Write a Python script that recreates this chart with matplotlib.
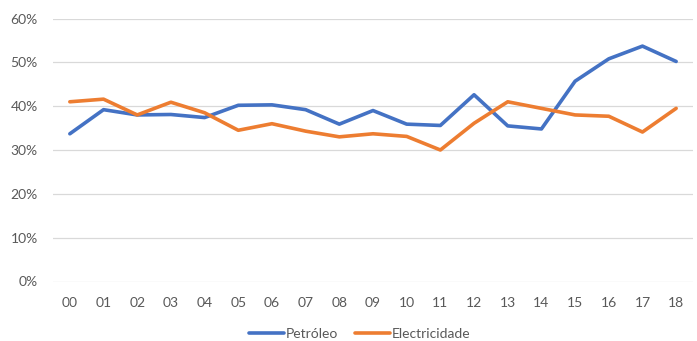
import matplotlib
matplotlib.use("Agg")
import matplotlib.pyplot as plt
from matplotlib.ticker import FuncFormatter

years = ["00", "01", "02", "03", "04", "05", "06", "07", "08", "09",
         "10", "11", "12", "13", "14", "15", "16", "17", "18"]
petroleo = [33.7, 39.2, 38.0, 38.1, 37.4, 40.2, 40.3, 39.2, 35.9, 39.0,
            35.9, 35.6, 42.6, 35.5, 34.8, 45.7, 50.8, 53.7, 50.2]
electricidade = [41.0, 41.6, 38.0, 40.9, 38.5, 34.5, 36.0, 34.3, 33.0, 33.7,
                 33.1, 30.0, 36.1, 41.0, 39.5, 38.0, 37.7, 34.1, 39.5]
series_names = ["Petróleo", "Electricidade"]
y_ticks = [0, 10, 20, 30, 40, 50, 60]

plt.rcParams["font.family"] = ["Lato", "DejaVu Sans"]
text_color = "#595959"

fig = plt.figure(figsize=(6.97, 3.41), dpi=100)
ax = fig.add_axes([53 / 697, 1 - 281.5 / 341, 640 / 697, 263 / 341])

x = list(range(len(years)))
ax.plot(x, petroleo, color="#4472C4", lw=2.6, solid_capstyle="round",
        solid_joinstyle="round", label=series_names[0], zorder=3)
ax.plot(x, electricidade, color="#ED7D31", lw=2.6, solid_capstyle="round",
        solid_joinstyle="round", label=series_names[1], zorder=3)

ax.set_xlim(-0.5, len(years) - 0.5)
ax.set_ylim(0, 60)
ax.set_yticks(y_ticks)
ax.yaxis.set_major_formatter(FuncFormatter(lambda v, _: f"{v:.0f}%"))
ax.set_xticks(x)
ax.set_xticklabels(years)

ax.grid(axis="y", color="#D9D9D9", lw=0.9, zorder=0)
for s in ax.spines.values():
    s.set_visible(False)
ax.tick_params(axis="both", length=0, colors=text_color, labelsize=10)
ax.tick_params(axis="y", pad=11)
ax.tick_params(axis="x", pad=11)

leg = ax.legend(loc="center", bbox_to_anchor=(360 / 697, 1 - 334 / 341),
                bbox_transform=fig.transFigure, ncol=2, frameon=False,
                fontsize=10, handlelength=2.5, handletextpad=0.15,
                columnspacing=1.2, labelcolor=text_color)

fig.savefig("out.png", dpi=100, facecolor="white")
